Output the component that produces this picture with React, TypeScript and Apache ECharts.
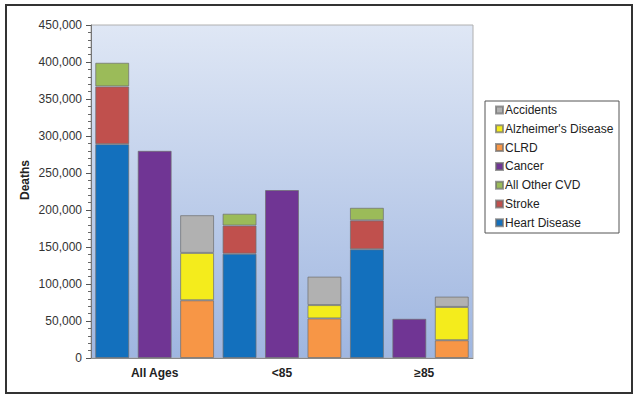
import React, { useEffect, useRef } from "react";
import * as echarts from "echarts";

// 9 bar positions: 3 per age group (CVD / Cancer / other)
const xLabels = ["", "All Ages", "", "", "<85", "", "", "≥85", ""];

const heartDisease = [289000, null, null, 141000, null, null, 147000, null, null];
const stroke = [78000, null, null, 38000, null, null, 39000, null, null];
const otherCvd = [32000, null, null, 16000, null, null, 17000, null, null];
const cancer = [null, 280000, null, null, 227000, null, null, 53000, null];
const clrd = [null, null, 78000, null, null, 53500, null, null, 24000];
const alzheimers = [null, null, 64000, null, null, 18000, null, null, 45000];
const accidents = [null, null, 51000, null, null, 38500, null, null, 14000];

const legendOrder = [
  "Accidents",
  "Alzheimer's Disease",
  "CLRD",
  "Cancer",
  "All Other CVD",
  "Stroke",
  "Heart Disease",
];

const FONT = "'Liberation Sans', Arial, sans-serif";

const App: React.FC = () => {
  const chartRef = useRef<HTMLDivElement | null>(null);

  useEffect(() => {
    if (!chartRef.current) return;
    const chart = echarts.init(chartRef.current, undefined, { renderer: "svg" });

    const bar = (name: string, data: (number | null)[], color: string) => ({
      name,
      type: "bar",
      stack: "total",
      data,
      barCategoryGap: "20%",
      itemStyle: { color, borderColor: "rgba(110,110,110,0.7)", borderWidth: 1 },
    });

    chart.setOption({
      animation: false,
      textStyle: { fontFamily: FONT },
      graphic: [
        {
          type: "rect",
          z: -10,
          shape: { x: 6, y: 5, width: 626, height: 388 },
          style: { fill: "#fff", stroke: "#333", lineWidth: 2 },
        },
        {
          type: "rect",
          z: -5,
          shape: { x: 485, y: 101, width: 134, height: 132 },
          style: { fill: "#fff", stroke: "#555", lineWidth: 1 },
        },
        {
          type: "text",
          x: 25,
          y: 180,
          rotation: Math.PI / 2,
          style: {
            text: "Deaths",
            fontFamily: FONT,
            fontSize: 12,
            fontWeight: "bold",
            fill: "#222",
            align: "center",
            verticalAlign: "middle",
          },
        },
      ],
      grid: {
        left: 91,
        top: 25,
        right: 166,
        bottom: 43,
        show: true,
        borderColor: "#b0b0b0",
        borderWidth: 1,
        backgroundColor: new echarts.graphic.LinearGradient(0, 0, 0, 1, [
          { offset: 0, color: "#dfe7f5" },
          { offset: 1, color: "#9fb6e0" },
        ]),
      },
      legend: {
        orient: "vertical",
        left: 495,
        top: 104,
        padding: 0,
        itemGap: 6.8,
        itemWidth: 7,
        itemHeight: 7,
        icon: "rect",
        data: legendOrder,
        textStyle: { fontFamily: FONT, fontSize: 12, color: "#222", padding: [0, 0, 0, -3] },
      },
      xAxis: {
        type: "category",
        data: xLabels,
        axisLine: { lineStyle: { color: "#888" } },
        axisTick: { show: false },
        axisLabel: {
          interval: 0,
          margin: 9,
          fontFamily: FONT,
          fontSize: 12,
          fontWeight: "bold",
          color: "#222",
          formatter: (v: string) => (v === "≥85" ? "{s|" + v + "}" : v),
          rich: {
            s: {
              fontFamily: FONT,
              fontSize: 12,
              fontWeight: "bold",
              color: "#222",
              padding: [0, 0, 0, 30],
            },
          },
        },
      },
      yAxis: {
        type: "value",
        min: 0,
        max: 450000,
        interval: 50000,
        axisLine: { show: true, lineStyle: { color: "#777" } },
        axisTick: { show: true, length: 5, lineStyle: { color: "#555" } },
        minorTick: { show: true, splitNumber: 5, length: 3, lineStyle: { color: "#666" } },
        splitLine: { show: false },
        axisLabel: {
          margin: 9,
          fontFamily: FONT,
          fontSize: 12,
          color: "#333",
          formatter: (v: number) => v.toLocaleString("en-US"),
        },
      },
      series: [
        bar("Heart Disease", heartDisease, "#1370bd"),
        bar("Stroke", stroke, "#c0504d"),
        bar("All Other CVD", otherCvd, "#9bbb59"),
        bar("Cancer", cancer, "#703594"),
        bar("CLRD", clrd, "#f79646"),
        bar("Alzheimer's Disease", alzheimers, "#f4ec1c"),
        bar("Accidents", accidents, "#b1b1b1"),
      ],
    });

    return () => {
      chart.dispose();
    };
  }, []);

  return (
    <div
      ref={chartRef}
      style={{ position: "fixed", left: 0, top: 0, width: 639, height: 401, background: "#fff" }}
    />
  );
};

export default App;
